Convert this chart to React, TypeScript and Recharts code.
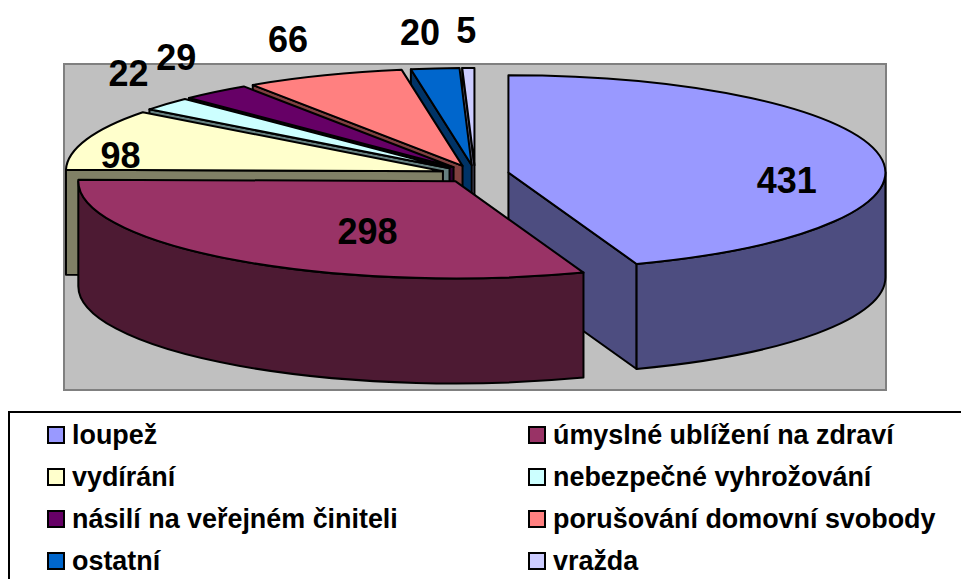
import React from "react";
import { PieChart, Pie, Legend } from "recharts";

const CATEGORIES = [
  "loupež",
  "úmyslné ublížení na zdraví",
  "vydírání",
  "nebezpečné vyhrožování",
  "násilí na veřejném činiteli",
  "porušování domovní svobody",
  "ostatní",
  "vražda",
];
const VALUES = [431, 298, 98, 22, 29, 66, 20, 5];
const COLORS = ["#9999FF", "#993366", "#FFFFCC", "#CCFFFF", "#660066", "#FF8080", "#0066CC", "#CCCCFF"];

// label shift from the middle of the slice's outer edge, by category index
const LABEL_NUDGE = [
  [-93, 25],
  [131, -29],
  [34, 16],
  [-38, -30],
  [-39, -34],
  [-36, -36],
  [-15, -36],
  [-2, -37],
];

const FONT = "'Liberation Sans', Arial, sans-serif";
const CX = 475;
const CY = 174;
const RX = 377;
const SQUASH = 0.258; // ellipse height / width
const DEPTH = 105;
const EXPLODE = 0.09;

// The slices are drawn counter-clockwise starting with loupež, so that the
// front slice (úmyslné ublížení) ends up painted last, like in the original.
const ORDER = [0, 7, 6, 5, 4, 3, 2, 1];
const chartData = ORDER.map((i) => ({ name: CATEGORIES[i], value: VALUES[i], color: COLORS[i], idx: i }));
const total = VALUES.reduce((a, b) => a + b, 0);
const START_ANGLE = 90 - (360 * VALUES[0]) / total;

const rad = (d: number) => (d * Math.PI) / 180;

function darker(hex: string) {
  const n = parseInt(hex.slice(1), 16);
  const half = (v: number) => Math.round(v / 2);
  return `rgb(${half((n >> 16) & 255)},${half((n >> 8) & 255)},${half(n & 255)})`;
}

// point on the flattened circle, angle is clockwise from 12 o'clock
function pt(x0: number, y0: number, r: number, a: number, drop = 0) {
  return [x0 + r * Math.sin(rad(a)), y0 - r * SQUASH * Math.cos(rad(a)) + drop];
}

function Slice3D(props: any) {
  const { cx, cy, outerRadius: r, startAngle, endAngle, payload } = props;
  const fill = payload.color ?? props.fill;
  const lo = Math.min(startAngle, endAngle);
  const hi = Math.max(startAngle, endAngle);
  const a = (((90 - hi) % 360) + 360) % 360;
  const b = a + (hi - lo);
  const mid = (a + b) / 2;
  const [ox, oy] = pt(cx, cy, r * EXPLODE, mid);
  const wall = darker(fill);

  const [sx, sy] = pt(ox, oy, r, a);
  const [ex, ey] = pt(ox, oy, r, b);
  const large = b - a > 180 ? 1 : 0;
  const top = `M${ox},${oy} L${sx},${sy} A${r},${r * SQUASH} 0 ${large} 1 ${ex},${ey} Z`;

  const cut = (ang: number) => {
    const [x, y] = pt(ox, oy, r, ang);
    return `M${ox},${oy} L${x},${y} L${x},${y + DEPTH} L${ox},${oy + DEPTH} Z`;
  };
  const cuts: string[] = [];
  if (Math.sin(rad(a)) < -0.001) cuts.push(cut(a));
  if (Math.sin(rad(b)) > 0.001) cuts.push(cut(b));

  // outer wall only where the rim faces the viewer
  const from = Math.max(a, 90);
  const to = Math.min(b, 270);
  let rim = "";
  if (to > from) {
    const [x1, y1] = pt(ox, oy, r, from);
    const [x2, y2] = pt(ox, oy, r, to);
    rim =
      `M${x1},${y1} A${r},${r * SQUASH} 0 0 1 ${x2},${y2} L${x2},${y2 + DEPTH} ` +
      `A${r},${r * SQUASH} 0 0 0 ${x1},${y1 + DEPTH} Z`;
  }

  return (
    <g>
      {cuts.map((d, i) => (
        <path key={i} d={d} fill={wall} stroke="#000" strokeWidth={2} strokeLinejoin="round" />
      ))}
      {rim && <path d={rim} fill={wall} stroke="#000" strokeWidth={2} strokeLinejoin="round" />}
      <path d={top} fill={fill} stroke="#000" strokeWidth={2} strokeLinejoin="round" />
    </g>
  );
}

function SliceLabel(props: any) {
  const { cx, cy, outerRadius: r, midAngle, payload, value } = props;
  const [px, py] = pt(cx, cy, r * (1 + EXPLODE), 90 - midAngle);
  const [dx, dy] = LABEL_NUDGE[payload.idx];
  return (
    <text
      x={px + dx}
      y={py + dy}
      textAnchor="middle"
      dominantBaseline="central"
      fontFamily={FONT}
      fontWeight="bold"
      fontSize={36}
      fill="#000"
    >
      {value}
    </text>
  );
}

function LegendBox() {
  return (
    <div
      style={{
        boxSizing: "border-box",
        width: 980,
        height: 190,
        border: "2px solid #000",
        display: "grid",
        gridTemplateColumns: "481px 1fr",
        gridAutoRows: "42px",
        padding: "1px 0 0 37px",
        fontFamily: FONT,
        fontWeight: "bold",
        fontSize: 26.9,
        color: "#000",
      }}
    >
      {CATEGORIES.map((c, i) => (
        <div key={c} style={{ display: "flex", alignItems: "center", whiteSpace: "nowrap" }}>
          <span
            style={{
              boxSizing: "border-box",
              width: 18,
              height: 18,
              marginRight: 7,
              background: COLORS[i],
              border: "2px solid #000",
            }}
          />
          {c}
        </div>
      ))}
    </div>
  );
}

export default function App() {
  return (
    <div style={{ position: "absolute", left: 0, top: 0, width: 961, height: 579, overflow: "hidden", background: "#fff" }}>
      <PieChart width={961} height={579} margin={{ top: 0, right: 0, bottom: 0, left: 0 }}>
        <rect x={64} y={64} width={822} height={326} fill="#C0C0C0" stroke="#808080" strokeWidth={2} />
        <Pie
          data={chartData}
          dataKey="value"
          nameKey="name"
          cx={CX}
          cy={CY}
          innerRadius={0}
          outerRadius={RX}
          startAngle={START_ANGLE}
          endAngle={START_ANGLE + 360}
          stroke="none"
          shape={Slice3D}
          label={SliceLabel}
          labelLine={false}
          isAnimationActive={false}
        />
        <Legend
          content={() => <LegendBox />}
          wrapperStyle={{ left: 8, top: 411, width: 980, height: 190, bottom: "auto" }}
        />
      </PieChart>
    </div>
  );
}
